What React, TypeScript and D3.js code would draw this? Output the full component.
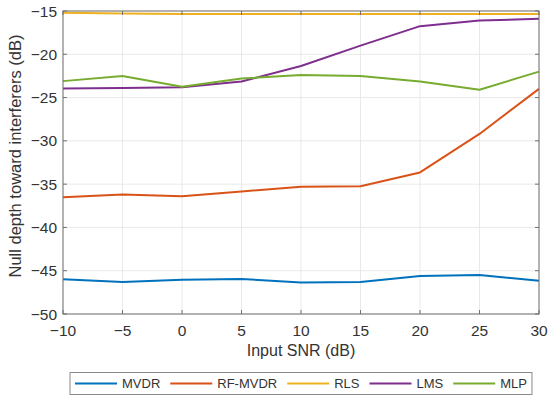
import React from "react";
import * as d3 from "d3";

// Input SNR (dB)
const snr = [-10, -5, 0, 5, 10, 15, 20, 25, 30];

const mvdr = [-46.0, -46.3, -46.05, -45.95, -46.35, -46.3, -45.6, -45.5, -46.15];
const rfMvdr = [-36.5, -36.2, -36.4, -35.85, -35.3, -35.25, -33.65, -29.2, -24.0];
const rls = [-15.2, -15.3, -15.35, -15.35, -15.35, -15.35, -15.35, -15.35, -15.35];
const lms = [-23.95, -23.9, -23.8, -23.15, -21.35, -19.0, -16.75, -16.1, -15.9];
const mlp = [-23.1, -22.5, -23.75, -22.8, -22.4, -22.5, -23.15, -24.1, -22.0];

const seriesNames = ["MVDR", "RF-MVDR", "RLS", "LMS", "MLP"];
const seriesColors = ["#0072BD", "#D95319", "#EDB120", "#7E2F8E", "#77AC30"];
const seriesValues = [mvdr, rfMvdr, rls, lms, mlp];

const xTicks = [-10, -5, 0, 5, 10, 15, 20, 25, 30];
const yTicks = [-50, -45, -40, -35, -30, -25, -20, -15];

const W = 550;
const H = 401;
const margin = { top: 11, right: 11, bottom: 87, left: 63 };
const font = "'Liberation Sans', Arial, Helvetica, sans-serif";
const legendFont = 13;
const fmt = (v: number) => (v < 0 ? `\u2212${Math.abs(v)}` : `${v}`);

// measure legend labels so the items sit like MATLAB's horizontal legend
function textWidth(s: string, size: number) {
  const c = document.createElement("canvas").getContext("2d");
  if (!c) return s.length * size * 0.6;
  c.font = `${size}px 'Liberation Sans'`;
  return c.measureText(s).width;
}

export default function App() {
  const x = d3.scaleLinear().domain([-10, 30]).range([margin.left, W - margin.right]);
  const y = d3.scaleLinear().domain([-50, -15]).range([H - margin.bottom, margin.top]);
  const line = d3
    .line<number>()
    .x((_, i) => x(snr[i]))
    .y((d) => y(d));

  const [x0, x1] = x.range();
  const [y0, y1] = y.range();

  // legend layout
  const legX = 70;
  const legY = 372.5;
  const legH = 22;
  const sample = 42;
  let acc = legX + 5;
  const legItems = seriesNames.map((n, i) => {
    const start = acc;
    acc += sample + 5 + textWidth(n, legendFont) + 10;
    return { n, i, start };
  });
  const legW = acc - 10 + 5 - legX;

  return (
    <svg width={W} height={H} style={{ position: "absolute", left: 0, top: 0, background: "#fff" }}>
      <rect x={0} y={0} width={W} height={H} fill="#fff" />
      {/* grid */}
      {xTicks.map((t) => (
        <line key={"gx" + t} x1={x(t)} x2={x(t)} y1={y0} y2={y1} stroke="#e3e3e3" strokeWidth={0.8} />
      ))}
      {yTicks.map((t) => (
        <line key={"gy" + t} x1={x0} x2={x1} y1={y(t)} y2={y(t)} stroke="#e3e3e3" strokeWidth={0.8} />
      ))}
      {/* series */}
      {seriesValues.map((vals, i) => (
        <path key={seriesNames[i]} d={line(vals) || ""} fill="none" stroke={seriesColors[i]} strokeWidth={2} strokeLinejoin="round" />
      ))}
      {/* axes box */}
      <rect x={x0} y={y1} width={x1 - x0} height={y0 - y1} fill="none" stroke="#707070" strokeWidth={1} />
      {xTicks.map((t) => (
        <g key={"tx" + t}>
          <line x1={x(t)} x2={x(t)} y1={y0} y2={y0 - 4} stroke="#707070" />
          <line x1={x(t)} x2={x(t)} y1={y1} y2={y1 + 4} stroke="#707070" />
          <text x={x(t)} y={y0 + 21.5} textAnchor="middle" fontSize={15.5} fontFamily={font} fill="#333">
            {fmt(t)}
          </text>
        </g>
      ))}
      {yTicks.map((t) => (
        <g key={"ty" + t}>
          <line x1={x0} x2={x0 + 4} y1={y(t)} y2={y(t)} stroke="#707070" />
          <line x1={x1} x2={x1 - 4} y1={y(t)} y2={y(t)} stroke="#707070" />
          <text x={x0 - 6} y={y(t) + 5.5} textAnchor="end" fontSize={15.5} fontFamily={font} fill="#333">
            {fmt(t)}
          </text>
        </g>
      ))}
      <text x={(x0 + x1) / 2} y={356} textAnchor="middle" fontSize={16} fontFamily={font} fill="#333">
        Input SNR (dB)
      </text>
      <text
        transform={`translate(21,156) rotate(-90)`}
        textAnchor="middle"
        fontSize={16.5}
        fontFamily={font}
        fill="#333"
      >
        Null depth toward interferers (dB)
      </text>
      {/* legend */}
      <rect x={legX} y={legY} width={legW} height={legH} fill="#fff" stroke="#8a8a8a" strokeWidth={1} />
      {legItems.map(({ n, i, start }) => (
        <g key={"leg" + n}>
          <line x1={start} x2={start + sample} y1={legY + legH / 2} y2={legY + legH / 2} stroke={seriesColors[i]} strokeWidth={2} />
          <text x={start + sample + 5} y={legY + legH / 2 + 4.7} fontSize={legendFont} fontFamily={font} fill="#333">
            {n}
          </text>
        </g>
      ))}
    </svg>
  );
}
